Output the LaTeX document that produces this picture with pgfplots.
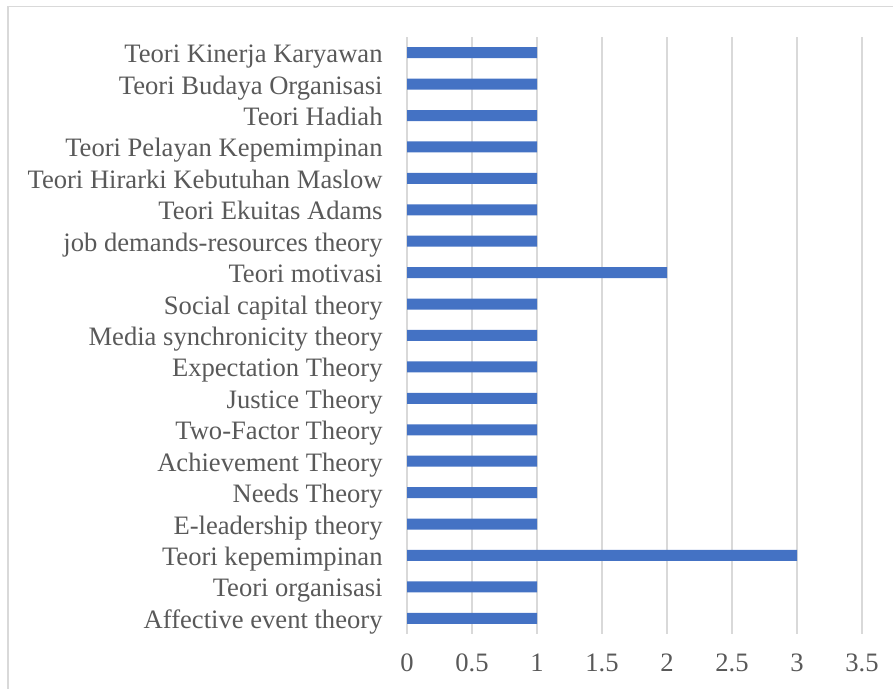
\documentclass[border=0pt]{standalone}
\usepackage{pgfplots}
\pgfplotsset{compat=1.18}
\usepackage{fontspec}
\setmainfont{Liberation Serif}
\definecolor{barblue}{HTML}{4472C4}
\definecolor{gridgray}{HTML}{D9D9D9}
\definecolor{txtgray}{HTML}{595959}
\begin{document}
\begin{tikzpicture}[x=1bp,y=1bp]
\useasboundingbox (0,0) rectangle (893,689);
\draw[gridgray, line width=1.5bp] (8,0) -- (8,682.5) -- (893,682.5);
\begin{axis}[
  at={(407bp,55bp)}, anchor=south west,
  scale only axis, width=455bp, height=597bp,
  xmin=0, xmax=3.5, ymin=-0.5, ymax=18.5,
  xtick={0,0.5,1,1.5,2,2.5,3,3.5},
  xticklabels={0,0.5,1,1.5,2,2.5,3,3.5},
  ytick={0,1,2,3,4,5,6,7,8,9,10,11,12,13,14,15,16,17,18},
  yticklabels={Affective event theory,Teori organisasi,Teori kepemimpinan,E-leadership theory,Needs Theory,Achievement Theory,Two-Factor Theory,Justice Theory,Expectation Theory,Media synchronicity theory,Social capital theory,Teori motivasi,job demands-resources theory,Teori Ekuitas Adams,Teori Hirarki Kebutuhan Maslow,Teori Pelayan Kepemimpinan,Teori Hadiah,Teori Budaya Organisasi,Teori Kinerja Karyawan},
  xmajorgrids, major grid style={draw=gridgray, line width=1.3bp},
  axis line style={draw=none}, tick style={draw=none},
  tick label style={font=\fontsize{26.6bp}{31bp}\selectfont, text=txtgray, inner sep=0pt},
  yticklabel style={anchor=base east, xshift=-20bp, yshift=-10bp},
  xticklabel style={anchor=center, yshift=-29bp},
  xbar, bar width=11bp,
  clip=false,
]
\addplot[fill=barblue, draw=none] coordinates {
(1,0) (1,1) (3,2) (1,3) (1,4) (1,5) (1,6) (1,7) (1,8) (1,9) (1,10) (2,11) (1,12) (1,13) (1,14) (1,15) (1,16) (1,17) (1,18)
};
\end{axis}
\end{tikzpicture}
\end{document}
